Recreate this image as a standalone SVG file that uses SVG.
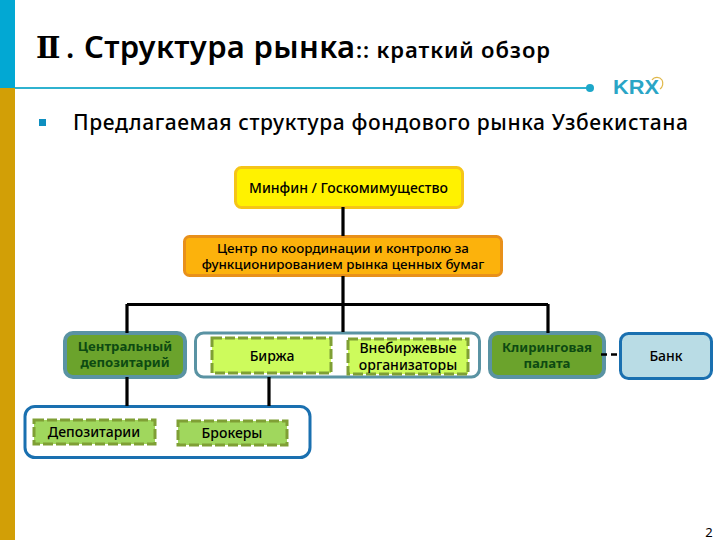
<svg xmlns="http://www.w3.org/2000/svg" width="720" height="540" viewBox="0 0 720 540">
<style>
text{font-family:"Noto Sans","Open Sans","DejaVu Sans",sans-serif;fill:#000;text-anchor:middle}
.t{text-anchor:start;font-weight:600}
.n{font-size:14px;font-weight:500}
.s{font-size:13.400px;font-weight:500}
.d{font-size:13.200px;font-weight:700;fill:#0d4a12}
.c{fill:none;stroke:#000;stroke-width:3.200}
.dash{fill:#cdfb5c;stroke:#7f9f35;stroke-width:3;stroke-dasharray:10 3}
.dash2{fill:#a0d75d;stroke:#7f9f35;stroke-width:3;stroke-dasharray:10 3}
.dep{fill:#6ba32c;stroke:#5a93a3;stroke-width:4}
</style>
<rect x="0" y="0" width="15" height="88" fill="#02a8d3"/>
<rect x="0" y="88" width="15" height="452" fill="#d29f06"/>
<line x1="15" y1="88" x2="590" y2="88" stroke="#2fb2cf" stroke-width="2"/>
<circle cx="590" cy="88" r="4" fill="#1da7c9"/>
<text x="36" y="58" class="t" style="font-size:29px;font-family:'DejaVu Serif','Noto Sans CJK KR',serif;font-weight:700">Ⅱ</text>
<text x="66" y="58" class="t" style="font-size:30px">.</text>
<text x="84" y="58" class="t" style="font-size:31px" textLength="271" lengthAdjust="spacing">Структура рынка</text>
<text x="356" y="58" class="t" style="font-size:22px" textLength="194" lengthAdjust="spacing">:: краткий обзор</text>
<rect x="39" y="119" width="7" height="7" fill="#0e8fc0"/>
<text x="73" y="130" class="t" style="font-size:21px;font-weight:500" textLength="615" lengthAdjust="spacing">Предлагаемая структура фондового рынка Узбекистана</text>
<g id="logo">
<text x="636" y="94" style="font-size:20px;font-weight:700;fill:#2aa5c6;font-family:'Liberation Sans',sans-serif" textLength="46" lengthAdjust="spacingAndGlyphs">KRX</text>
<path d="M652 80a6 6 0 0 1 10 0a7 7 0 0 1-2 9" fill="none" stroke="#e0b84a" stroke-width="1.200"/>
</g>
<g id="minfin">
<rect x="235.500" y="167.500" width="227" height="40" rx="6" fill="#fff200" stroke="#f5c518" stroke-width="3"/>
<text x="348.500" y="193" class="n">Минфин / Госкомимущество</text>
</g>
<g id="center">
<rect x="184.500" y="236.500" width="317" height="39" rx="5" fill="#fcb20c" stroke="#e8901a" stroke-width="3"/>
<text x="343" y="253" class="s">Центр по координации и контролю за</text>
<text x="343" y="269" class="s">функционированием рынка ценных бумаг</text>
</g>
<g id="central-depository">
<rect class="dep" x="65" y="333" width="120" height="44" rx="8"/>
<text x="125" y="351" class="d">Центральный</text>
<text x="125" y="367" class="d">депозитарий</text>
</g>
<g id="exchange-group">
<rect x="195.500" y="333" width="284" height="44" rx="8" fill="#fff" stroke="#5a93a3" stroke-width="3"/>
</g>
<g id="birzha">
<rect class="dash" x="212" y="338" width="119" height="35"/>
<text x="272" y="361" class="n">Биржа</text>
</g>
<g id="otc">
<rect class="dash" x="348" y="339" width="120" height="35"/>
<text x="408" y="353" class="n">Внебиржевые</text>
<text x="408" y="370" class="n">организаторы</text>
</g>
<g id="clearing">
<rect class="dep" x="490" y="333" width="114" height="44" rx="8"/>
<text x="547" y="352" class="d">Клиринговая</text>
<text x="547" y="368" class="d">палата</text>
</g>
<g id="bank">
<rect x="620.500" y="333.500" width="91" height="45" rx="8" fill="#b9dce5" stroke="#1a70b0" stroke-width="3"/>
<text x="666" y="361" class="n">Банк</text>
</g>
<g id="participants">
<rect x="25" y="406.500" width="285" height="51" rx="10" fill="#fff" stroke="#1a70b0" stroke-width="3"/>
</g>
<g id="depositories">
<rect class="dash2" x="34" y="420" width="121" height="24"/>
<text x="94" y="437" class="n">Депозитарии</text>
</g>
<g id="brokers">
<rect class="dash2" x="178" y="421" width="109" height="24"/>
<text x="232" y="438" class="n">Брокеры</text>
</g>
<g id="connectors">
<path class="c" d="M343 207V236M343 276V332M127 304.500H548M127 304V333M548 304V333M127 377V406M269 377V406"/>
<path d="M601 354.500H618" fill="none" stroke="#000" stroke-width="2.500" stroke-dasharray="6 4"/>
</g>
<text x="709" y="537" style="font-size:13px">2</text>
</svg>
